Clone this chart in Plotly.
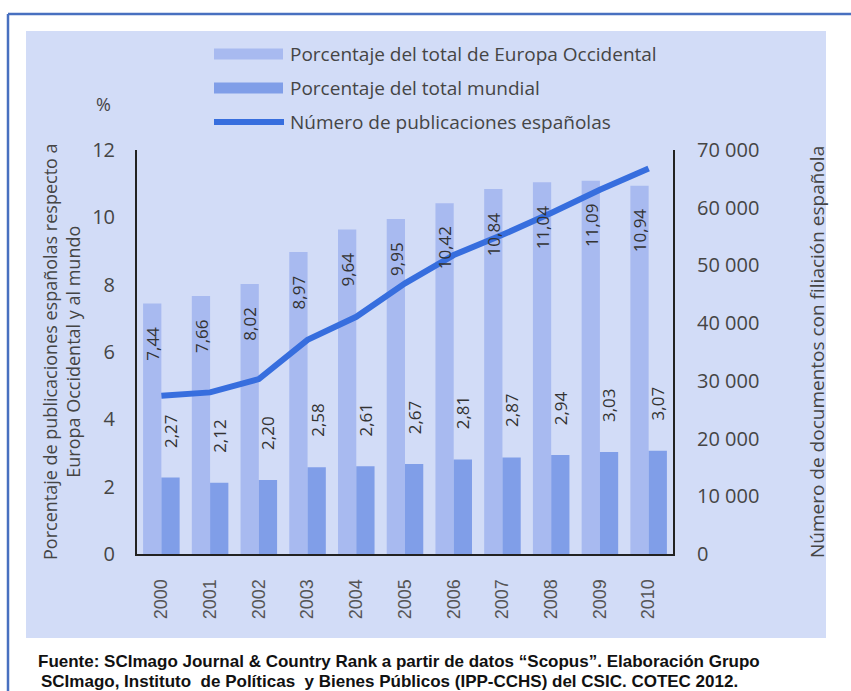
import plotly.graph_objects as go

# Data
years = ["2000", "2001", "2002", "2003", "2004", "2005", "2006", "2007", "2008", "2009", "2010"]
pct_europa = [7.44, 7.66, 8.02, 8.97, 9.64, 9.95, 10.42, 10.84, 11.04, 11.09, 10.94]
pct_mundo = [2.27, 2.12, 2.20, 2.58, 2.61, 2.67, 2.81, 2.87, 2.94, 3.03, 3.07]
publicaciones = [27400, 28000, 30300, 37100, 41100, 46900, 51800, 55300, 59100, 63100, 66800]

legend_labels = ["Porcentaje del total de Europa Occidental",
                 "Porcentaje del total mundial",
                 "Número de publicaciones españolas"]

W, H = 851, 691
ML, MR, MT, MB = 137, 178, 150, 137
PW, PH = W - ML - MR, H - MT - MB

C_PANEL = "rgb(210,220,247)"
C_EUR = "rgb(168,186,240)"
C_MUN = "rgb(128,158,232)"
C_LINE = "rgb(55,110,222)"
C_TEXT = "#454545"
FONT = "Open Sans, sans-serif"


def px(x):
    return (x - ML) / PW


def py(y):
    return (H - MB - y) / PH


fig = go.Figure()
fig.add_trace(go.Bar(x=years, y=pct_europa, name=legend_labels[0],
                     marker=dict(color=C_EUR, line=dict(width=0)), showlegend=False))
fig.add_trace(go.Bar(x=years, y=pct_mundo, name=legend_labels[1],
                     marker=dict(color=C_MUN, line=dict(width=0)), showlegend=False))
fig.add_trace(go.Scatter(x=years, y=publicaciones, name=legend_labels[2], yaxis="y2",
                         mode="lines", line=dict(color=C_LINE, width=6),
                         showlegend=False))

bargap = 0.25
half = PW / len(years) * (1 - bargap) / 4

annotations = []
# value labels on the bars (x given as category index)
for i, v in enumerate(pct_europa):
    annotations.append(dict(x=i, y=v, xref="x", yref="y", text=f"{v:.2f}".replace(".", ","),
                            textangle=-90, showarrow=False, xshift=-half, yshift=-21,
                            xanchor="center", yanchor="top",
                            font=dict(family=FONT, size=17, color="#333")))
for i, v in enumerate(pct_mundo):
    annotations.append(dict(x=i, y=v, xref="x", yref="y", text=f"{v:.2f}".replace(".", ","),
                            textangle=-90, showarrow=False, xshift=half, yshift=28,
                            xanchor="center", yanchor="bottom",
                            font=dict(family=FONT, size=17, color="#333")))

# axis titles
annotations.append(dict(x=px(61), y=py(352), xref="paper", yref="paper",
                        text="Porcentaje de publicaciones españolas respecto a<br>Europa Occidental y al mundo",
                        textangle=-90, showarrow=False, xanchor="center", yanchor="middle",
                        font=dict(family=FONT, size=18, color=C_TEXT)))
annotations.append(dict(x=px(817), y=py(352), xref="paper", yref="paper",
                        text="Número de documentos con filiación española",
                        textangle=-90, showarrow=False, xanchor="center", yanchor="middle",
                        font=dict(family=FONT, size=19, color=C_TEXT)))
annotations.append(dict(x=px(103), y=py(104), xref="paper", yref="paper", text="%",
                        showarrow=False, xanchor="center", yanchor="middle",
                        font=dict(family=FONT, size=18, color=C_TEXT)))

# background panel, frame and legend
rows = [54, 88, 122]
shapes = []
shapes.append(dict(type="rect", xref="paper", yref="paper", x0=px(26), x1=px(826),
                   y0=py(31), y1=py(638), fillcolor=C_PANEL, line=dict(width=0), layer="below"))
shapes.append(dict(type="line", xref="paper", yref="paper", x0=px(8), x1=px(851),
                   y0=py(14), y1=py(14), line=dict(color="rgb(72,112,192)", width=2.5)))
shapes.append(dict(type="line", xref="paper", yref="paper", x0=px(8), x1=px(8),
                   y0=py(14), y1=py(691), line=dict(color="rgb(72,112,192)", width=2.5)))
for i, (lab, r) in enumerate(zip(legend_labels, rows)):
    if i < 2:
        shapes.append(dict(type="rect", xref="paper", yref="paper", x0=px(214), x1=px(283),
                           y0=py(r - 5.5), y1=py(r + 5.5),
                           fillcolor=[C_EUR, C_MUN][i], line=dict(width=0)))
    else:
        shapes.append(dict(type="line", xref="paper", yref="paper", x0=px(214), x1=px(284),
                           y0=py(r), y1=py(r), line=dict(color=C_LINE, width=6)))
    annotations.append(dict(x=px(288), y=py(r), xref="paper", yref="paper", text=lab,
                            showarrow=False, xanchor="left", yanchor="middle",
                            font=dict(family=FONT, size=19, color=C_TEXT)))

# source note
notes = ["Fuente: SCImago Journal & Country Rank a partir de datos “Scopus”. Elaboración Grupo",
         "SCImago, Instituto  de Políticas  y Bienes Públicos (IPP-CCHS) del CSIC. COTEC 2012."]
for note, (xx, yy) in zip(notes, [(36, 661), (39, 681)]):
    annotations.append(dict(x=px(xx), y=py(yy), xref="paper", yref="paper", text=f"<b>{note}</b>",
                            showarrow=False, xanchor="left", yanchor="middle",
                            font=dict(family="Liberation Sans, Arial, sans-serif", size=17, color="#111")))

fig.update_layout(
    width=W, height=H,
    margin=dict(l=ML, r=MR, t=MT, b=MB, pad=0),
    paper_bgcolor="white", plot_bgcolor="rgba(0,0,0,0)",
    barmode="group", bargap=bargap, bargroupgap=0,
    separators=", ",
    showlegend=False,
    xaxis=dict(type="category", range=[-0.5, len(years) - 0.5], showline=True,
               linecolor="#222", linewidth=2,
               tickangle=-90, ticks="outside", ticklen=16, tickcolor="rgba(0,0,0,0)",
               tickfont=dict(family="Liberation Sans, Arial, sans-serif", size=18, color="#555"),
               showgrid=False, zeroline=False, fixedrange=True),
    yaxis=dict(range=[0, 12], dtick=2, showline=True, linecolor="#222", linewidth=2,
               ticks="outside", ticklen=16, tickcolor="rgba(0,0,0,0)",
               tickfont=dict(family=FONT, size=20, color=C_TEXT),
               showgrid=False, zeroline=False),
    yaxis2=dict(range=[0, 70000], dtick=10000, overlaying="y", side="right",
                showline=True, linecolor="#222", linewidth=2, tickformat=",",
                ticks="outside", ticklen=18, tickcolor="rgba(0,0,0,0)",
                tickfont=dict(family=FONT, size=20, color=C_TEXT),
                showgrid=False, zeroline=False),
    annotations=annotations,
    shapes=shapes,
)

fig.write_html("out.html")
